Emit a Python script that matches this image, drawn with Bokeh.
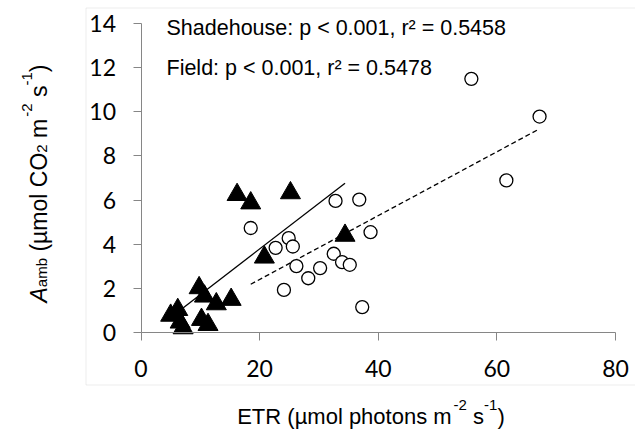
import math
from bokeh.plotting import figure
from bokeh.models import Range1d, LinearAxis, FixedTicker, Label, BoxAnnotation
from bokeh.embed import file_html
from bokeh.resources import INLINE

# ---------------- data ----------------
# Shadehouse (filled triangles)
shade_etr = [16.2, 18.5, 25.2, 20.8, 34.4, 9.8, 10.7, 12.7, 15.2, 5.0, 6.2, 7.1, 10.2, 11.3, 6.6]
shade_a = [6.24, 5.86, 6.32, 3.40, 4.39, 2.01, 1.63, 1.28, 1.48, 0.76, 1.02, 0.19, 0.57, 0.34, 0.45]
# Field (open circles)
field_etr = [18.5, 32.8, 36.8, 38.7, 22.7, 24.9, 25.6, 26.2, 28.2, 30.2, 24.1, 32.5, 33.9, 35.2, 37.3, 55.7, 67.2, 61.6]
field_a = [4.73, 5.96, 6.02, 4.54, 3.83, 4.27, 3.89, 3.00, 2.45, 2.91, 1.92, 3.56, 3.18, 3.06, 1.14, 11.50, 9.79, 6.89]
# linear trendlines (slope, intercept)
shade_fit = (0.2074, -0.37)
field_fit = (0.1449, -0.505)
x_ticks = [0, 20, 40, 60, 80]
y_ticks = [0, 2, 4, 6, 8, 10, 12, 14]
shade_note = "Shadehouse: p < 0.001, r\u00b2 = 0.5458"
field_note = "Field: p < 0.001, r\u00b2 = 0.5478"

# ---------------- layout (page pixel <-> data mapping) ----------------
W, H = 635, 435
X0_PX, X_PER = 140.5, 5.931   # page x of ETR=0, pixels per unit
Y0_PX, Y_PER = 331.7, 22.03   # page y of A=0, pixels per unit


def dx(px):
    return (px - X0_PX) / X_PER


def dy(py):
    return (Y0_PX - py) / Y_PER


p = figure(width=W, height=H, output_backend="svg", toolbar_location=None,
           x_axis_location=None, y_axis_location=None,
           x_range=Range1d(dx(0), dx(W)), y_range=Range1d(dy(H), dy(0)),
           min_border=0, min_border_left=0, min_border_right=0,
           min_border_top=0, min_border_bottom=0)
p.title.visible = False
p.outline_line_color = None
p.grid.grid_line_color = None
p.background_fill_color = "white"
p.border_fill_color = "white"

# chart-area box
p.add_layout(BoxAnnotation(left=dx(85.5), right=dx(700), top=dy(7.5), bottom=dy(384.5),
                           fill_color=None, line_color="#bfbfbf", line_width=1))

AX_COL = "#868686"
TICK_FONT = "Lato"
TICK_SIZE = "23px"

xaxis = LinearAxis(fixed_location=0, ticker=FixedTicker(ticks=x_ticks), bounds=(0, 80))
yaxis = LinearAxis(fixed_location=0, ticker=FixedTicker(ticks=y_ticks), bounds=(0, 14))
for ax in (xaxis, yaxis):
    ax.axis_line_color = AX_COL
    ax.axis_line_width = 1
    ax.major_tick_line_color = AX_COL
    ax.major_tick_in = 0
    ax.major_tick_out = 8
    ax.minor_tick_line_color = None
    ax.major_label_text_font = TICK_FONT
    ax.major_label_text_font_size = TICK_SIZE
    ax.major_label_text_color = "black"
xaxis.major_label_standoff = 20
yaxis.major_label_standoff = 17
p.add_layout(xaxis, "below")
p.add_layout(yaxis, "left")

# trendlines
sx = [min(shade_etr), max(shade_etr)]
p.line(sx, [shade_fit[0] * v + shade_fit[1] for v in sx], line_color="black", line_width=1.3)
fx = [min(field_etr), max(field_etr)]
p.line(fx, [field_fit[0] * v + field_fit[1] for v in fx], line_color="black", line_width=1.3,
       line_dash="5 3")

# markers
p.scatter(field_etr, field_a, marker="circle", size=13, fill_color="white",
          line_color="black", line_width=1.3)
p.scatter(shade_etr, shade_a, marker="triangle", size=20, fill_color="black",
          line_color="black", line_width=1)

# annotations
ANN_FONT = "Liberation Sans"
for txt, base in ((shade_note, 27.0), (field_note, 67.5)):
    p.add_layout(Label(x=dx(166), y=dy(base), text=txt, text_font=ANN_FONT,
                       text_font_size="21.5px", text_color="black",
                       text_align="left", text_baseline="alphabetic"))


def piece(txt, x, y, size, angle=0.0, style="normal"):
    p.add_layout(Label(x=dx(x), y=dy(y), text=txt, text_font=ANN_FONT,
                       text_font_size=size, text_font_style=style, text_color="black",
                       angle=angle, text_align="left", text_baseline="alphabetic"))


# x axis title: ETR (µmol photons m-2 s-1)
XB = 416
xb, xs = 22, 15
SPX = 0.278 * xb
xpos = 236.7
piece("ETR (\u00b5mol photons m", xpos, XB, f"{xb}px")
xpos += 9.745 * xb + 2
piece("-2", xpos, XB - 11.5, f"{xs}px")
xpos += 0.889 * xs + SPX
piece("s", xpos, XB, f"{xb}px")
xpos += 0.5 * xb
piece("-1", xpos, XB - 11.5, f"{xs}px")
xpos += 0.889 * xs
piece(")", xpos, XB, f"{xb}px")

# y axis title: A_amb (µmol CO2 m-2 s-1), rotated
R = math.pi / 2
YB = 38.0
big, small = 23, 15
SP = 0.278 * big
pos = 302.0
piece("A", YB, pos, f"{big}px", R, "italic")
pos -= 0.667 * big
piece("amb", YB + 3, pos, f"{small}px", R)
pos -= 1.945 * small + SP
piece("(\u00b5mol CO", YB, pos, f"{big}px", R)
pos -= 4.298 * big
piece("2", YB + 3, pos, f"{small}px", R)
pos -= 0.556 * small + SP
piece("m", YB, pos, f"{big}px", R)
pos -= 0.833 * big + 2
piece("-2", YB - 12, pos, f"{small}px", R)
pos -= 0.889 * small + SP
piece("s", YB, pos, f"{big}px", R)
pos -= 0.5 * big
piece("-1", YB - 12, pos, f"{small}px", R)
pos -= 0.889 * small
piece(")", YB, pos, f"{big}px", R)

open("out.html", "w").write(file_html(p, INLINE))
